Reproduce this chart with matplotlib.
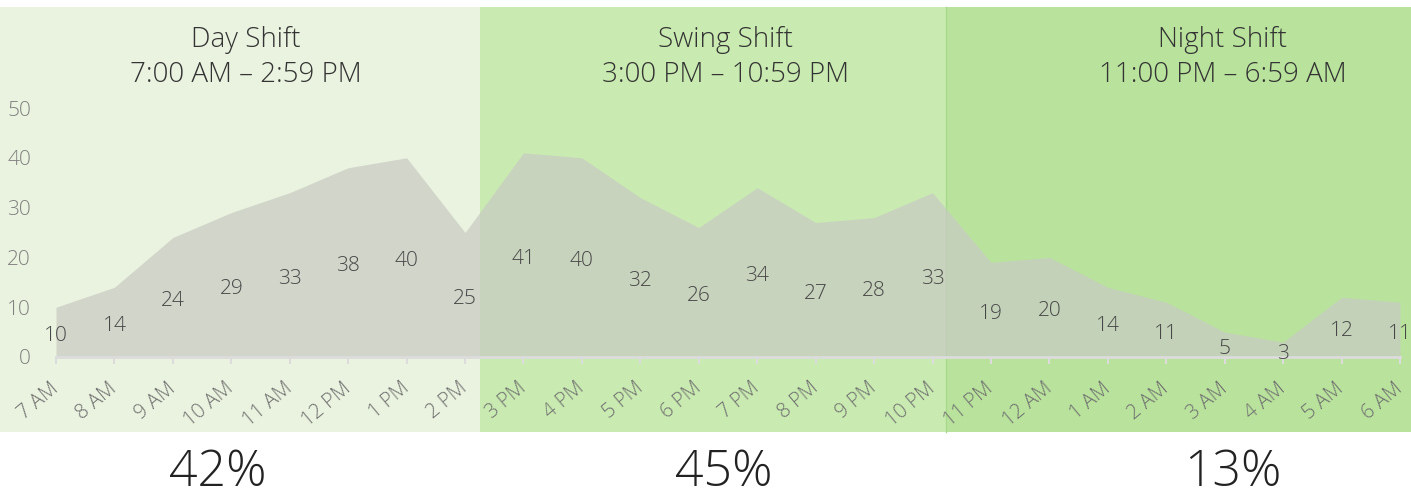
import matplotlib
matplotlib.use('Agg')
import matplotlib.pyplot as plt
from matplotlib.patches import Rectangle

hours = ['7 AM', '8 AM', '9 AM', '10 AM', '11 AM', '12 PM', '1 PM', '2 PM',
         '3 PM', '4 PM', '5 PM', '6 PM', '7 PM', '8 PM', '9 PM', '10 PM',
         '11 PM', '12 AM', '1 AM', '2 AM', '3 AM', '4 AM', '5 AM', '6 AM']
counts = [10, 14, 24, 29, 33, 38, 40, 25,
          41, 40, 32, 26, 34, 27, 28, 33,
          19, 20, 14, 11, 5, 3, 12, 11]
shifts = ['Day Shift', 'Swing Shift', 'Night Shift']
spans = ['7:00 AM \u2013 2:59 PM', '3:00 PM \u2013 10:59 PM', '11:00 PM \u2013 6:59 AM']
shares = ['42%', '45%', '13%']
yticks = [0, 10, 20, 30, 40, 50]

W, H = 1411, 499
LIGHT = ['Open Sans Light', 'Noto Sans Light', 'Open Sans', 'DejaVu Sans']
plt.rcParams['font.family'] = LIGHT
plt.rcParams['font.weight'] = 'light'

fig = plt.figure(figsize=(W / 100, H / 100), dpi=100)
fig.patch.set_facecolor('white')

# background panels, drawn in pixel coordinates
bg = fig.add_axes([0, 0, 1, 1])
bg.set_xlim(0, W)
bg.set_ylim(H, 0)
bg.axis('off')

panel_x = [0, 480, 946, W]
panel_colors = ['#eaf3df', '#c9ebb1', '#b9e39d']
title_x = [246, 726, 1223]
share_x = [218, 724, 1233]
for k in range(3):
    bg.add_patch(Rectangle((panel_x[k], 7), panel_x[k + 1] - panel_x[k], 425,
                           facecolor=panel_colors[k], edgecolor='none', zorder=0))
    bg.text(title_x[k], 40, shifts[k], ha='center', va='center', fontsize=20,
            color='#333333')
    bg.text(title_x[k], 75, spans[k], ha='center', va='center', fontsize=20,
            color='#333333')
    bg.text(share_x[k], 498, shares[k], ha='center', va='bottom', fontsize=36,
            color='#222222')
bg.plot([946, 946], [7, 432], color='#a6d98a', lw=1, zorder=1)

# area chart
ax = fig.add_axes([56 / W, (H - 357) / H, (1400 - 56) / W, (357 - 108) / H])
ax.patch.set_alpha(0)
x = list(range(len(counts)))
ax.fill_between(x, 0, counts, color='#c8cac3', alpha=0.72, lw=0, zorder=2)
for xi, v in zip(x, counts):
    ax.text(xi, v / 2 - 0.8, str(v), ha='center', va='center', fontsize=15,
            color='#474747', zorder=5)

ax.set_xlim(0, len(counts) - 1)
ax.set_ylim(0, 50)
ax.set_yticks(yticks)
ax.set_yticklabels([str(t) for t in yticks])
ax.set_xticks(x)
ax.set_xticklabels(hours, rotation=40, ha='right', va='center',
                   rotation_mode='anchor')
ax.tick_params(axis='x', length=5, width=1.5, color='#dcdcdc', pad=16,
               labelsize=14.5, labelcolor='#6f6f6f')
ax.tick_params(axis='y', length=0, pad=18, labelsize=15, labelcolor='#808080')
for s in ['top', 'right', 'left']:
    ax.spines[s].set_visible(False)
ax.spines['bottom'].set_color('#dcdcdc')
ax.spines['bottom'].set_linewidth(2)
ax.spines['bottom'].set_zorder(4)

fig.savefig('out.png', dpi=100)
